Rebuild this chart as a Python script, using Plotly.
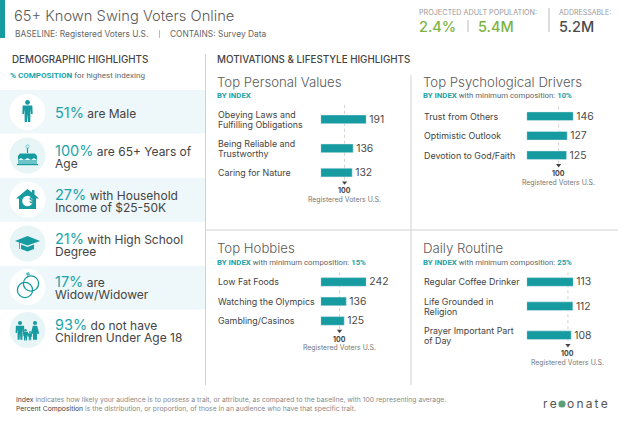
import plotly.graph_objects as go

W, H = 624, 425
TEAL = "#169BA1"
TEAL_T = "#1BA3A8"
DARK = "#4A4A4A"
FONT = "Inter"

demo_pct = ["51%", "100%", "27%", "21%", "17%", "93%"]
demo_text = [" are Male", " are 65+ Years of<br>Age", " with Household<br>Income of $25-50K",
             " with High School<br>Degree", " are<br>Widow/Widower", " do not have<br>Children Under Age 18"]

values_labels = ["Obeying Laws and<br>Fulfilling Obligations", "Being Reliable and<br>Trustworthy", "Caring for Nature"]
values_index = [191, 136, 132]
drivers_labels = ["Trust from Others", "Optimistic Outlook", "Devotion to God/Faith"]
drivers_index = [146, 127, 125]
hobbies_labels = ["Low Fat Foods", "Watching the Olympics", "Gambling/Casinos"]
hobbies_index = [242, 136, 125]
routine_labels = ["Regular Coffee Drinker", "Life Grounded in<br>Religion", "Prayer Important Part<br>of Day"]
routine_index = [113, 112, 108]
baseline_index = 100
baseline_name = "Registered Voters U.S."

def px(x): return x / W
def py(y): return 1 - y / H

fig = go.Figure()
shapes, notes = [], []

def T(x, y, text, size, color=DARK, anchor="left", weight=None, family=FONT):
    f = dict(size=size, color=color, family=family)
    if weight: f["weight"] = weight
    notes.append(dict(x=px(x), y=py(y), xref="paper", yref="paper", text=text, showarrow=False,
                      xanchor=anchor, yanchor="middle", align=anchor, font=f, borderpad=0, borderwidth=0))

def rect(x0, y0, x1, y1, color):
    shapes.append(dict(type="rect", xref="paper", yref="paper", x0=px(x0), x1=px(x1), y0=py(y0), y1=py(y1),
                       fillcolor=color, line_width=0, layer="below"))

def hline(x0, y0, x1, y1, color="#D2D2D2", w=1):
    shapes.append(dict(type="line", xref="paper", yref="paper", x0=px(x0), x1=px(x1), y0=py(y0), y1=py(y1),
                       line=dict(color=color, width=w), layer="below"))

def circ(cx, cy, r, fill=None, line=None, w=1.2):
    shapes.append(dict(type="circle", xref="paper", yref="paper", x0=px(cx - r), x1=px(cx + r),
                       y0=py(cy + r), y1=py(cy - r), fillcolor=fill or "rgba(0,0,0,0)",
                       line=dict(color=line or "rgba(0,0,0,0)", width=w if line else 0)))

def poly(pts, fill=TEAL):
    d = "M" + " L".join(f"{px(a):.5f} {py(b):.5f}" for a, b in pts) + " Z"
    shapes.append(dict(type="path", xref="paper", yref="paper", path=d, fillcolor=fill, line_width=0))

def person(cx, top, s=1.0, fill=TEAL, skirt=False):
    circ(cx, top + 2.4 * s, 2.4 * s, fill=fill)
    if skirt:
        poly([(cx - 2.5 * s, top + 5.5 * s), (cx + 2.5 * s, top + 5.5 * s), (cx + 5 * s, top + 15 * s),
              (cx + 2.3 * s, top + 15 * s), (cx + 2.3 * s, top + 22 * s), (cx - 2.3 * s, top + 22 * s),
              (cx - 2.3 * s, top + 15 * s), (cx - 5 * s, top + 15 * s)], fill)
    else:
        poly([(cx - 4.8 * s, top + 5.5 * s), (cx + 4.8 * s, top + 5.5 * s), (cx + 5.2 * s, top + 14 * s),
              (cx + 3.6 * s, top + 14 * s), (cx + 3 * s, top + 9 * s), (cx + 2.8 * s, top + 22 * s),
              (cx + .5 * s, top + 22 * s), (cx, top + 14 * s), (cx - .5 * s, top + 22 * s),
              (cx - 2.8 * s, top + 22 * s), (cx - 3 * s, top + 9 * s), (cx - 3.6 * s, top + 14 * s),
              (cx - 5.2 * s, top + 14 * s)], fill)

def tight(s, size):
    # plotly spaces lines by the outer font size, so the visible size is set per line
    return "<br>".join(f'<span style="font-size:{size}px">{part}</span>' for part in s.split("<br>"))

# backgrounds and rules
rect(0, 0, 5, 38, TEAL)
for y0, y1 in [(90, 133.5), (177.7, 221.7), (265.7, 309.5)]:
    rect(0, y0, 205, y1, "#EEF7F9")
hline(205.5, 54, 205.5, 385)
hline(411, 75, 411, 385)
hline(206, 230, 618, 230)
hline(468, 20, 468, 32, "#BBBBBB")
hline(549, 8, 549, 32, "#BBBBBB")
hline(159.5, 30, 159.5, 38, "#BBBBBB")

# header
T(14, 15.5, "65+ Known Swing Voters Online", 14.7, "#5A5A5A", weight=300)
T(15, 34, "BASELINE: Registered Voters U.S.", 8.4, "#666666")
T(170, 34, "CONTAINS: Survey Data", 8.4, "#666666")
T(419, 12.5, "PROJECTED ADULT POPULATION:", 7.2, "#999999")
T(559, 12.5, "ADDRESSABLE:", 7, "#999999")
T(419, 27, "2.4%", 14.5, "#7CB342", weight=500)
T(478, 27, "5.4M", 14.5, "#7CB342", weight=500)
T(559, 27, "5.2M", 14.5, "#4A4A4A", weight=500)

# section heads
T(12, 60, "DEMOGRAPHIC HIGHLIGHTS", 9.8, "#444444", weight=500)
T(217, 60, "MOTIVATIONS & LIFESTYLE HIGHLIGHTS", 9.8, "#444444", weight=500)
T(10, 75.5, f'<b><span style="color:{TEAL_T}">% COMPOSITION</span></b> for highest indexing', 8.05, "#666666", family="Roboto")

# demographic rows
row_y = [112, 155.5, 199.5, 243.5, 287, 330]
for i, (p, t, cy) in enumerate(zip(demo_pct, demo_text, row_y)):
    circ(27.5, cy, 18, fill="#FFFFFF" if i % 2 == 0 else "#E8F5F7")
    parts = t.split("<br>")
    lines = [f'<span style="color:{TEAL_T};font-size:14.5px">{p}</span><span style="font-size:12px">{parts[0]}</span>']
    if len(parts) > 1:
        lines.append(f'<span style="font-size:12px">{parts[1]}</span>')
    T(55, cy + (0 if len(parts) == 1 else 0.6), "<br>".join(lines), 9.6, "#444444")

# icons
person(27.5, 100, 1.0)
circ(27.5, 146.5, 1.6, line="#5CBCC0", w=.8)
rect(26.9, 148, 28.1, 153, TEAL)
shapes[-1]["layer"] = "above"
poly([(18, 160), (18, 156), (20, 153.5), (35, 153.5), (37, 156), (37, 160), (34, 158), (31, 160), (27.5, 158), (24, 160), (21, 158)])
poly([(18, 160), (37, 160), (37, 164), (18, 164)], "#6CC4C8")
poly([(17, 164), (38, 164), (38, 165.2), (17, 165.2)])
poly([(27.5, 189), (32, 192.5), (32, 190), (34.5, 190), (34.5, 194.5), (39, 198.5), (36, 198.5), (36, 209), (19, 209), (19, 198.5), (16, 198.5)])
circ(27.5, 201, 5.3, fill="#FFFFFF")
notes.append(dict(x=px(27.5), y=py(201), xref="paper", yref="paper", text="<b>$</b>", showarrow=False,
                  font=dict(size=7.5, color=TEAL, family=FONT), borderpad=0))
poly([(15, 241), (27.5, 236), (40, 241), (27.5, 245.5)])
poly([(21, 244.5), (27.5, 247), (34, 244.5), (34, 249), (27.5, 251.5), (21, 249)])
rect(19, 242, 19.8, 249, TEAL); shapes[-1]["layer"] = "above"
circ(25, 290, 7.6, line=TEAL, w=1.3)
circ(31, 283.5, 7.6, line=TEAL, w=1.3)
poly([(26, 273), (29, 272), (30, 275), (27, 276)], "#5CBCC0")
person(20, 321, .85)
person(35, 321, .85, skirt=True)
person(25.5, 329, .52)
person(30, 331, .42)

# panels: px per index unit is set by the x-axis span; rows follow the number of text lines
LINE1, LINE2, BAR = 19.5, 29.0, 8.7
panels = [
    dict(title="Top Personal Values", labels=values_labels, vals=values_index, tx=217, ty=81.5, sub_y=95.5, sub="",
         x0=320.7, x1=366.3, top=104.8),
    dict(title="Top Psychological Drivers", labels=drivers_labels, vals=drivers_index, tx=423, ty=81.5, sub_y=96,
         sub="10%", x0=526.7, x1=573.3, top=106.5),
    dict(title="Top Hobbies", labels=hobbies_labels, vals=hobbies_index, tx=217, ty=248, sub_y=262.7, sub="15%",
         x0=320.7, x1=366.3, top=272.2),
    dict(title="Daily Routine", labels=routine_labels, vals=routine_index, tx=423, ty=248, sub_y=262.7, sub="25%",
         x0=526.7, x1=573.3, top=272.2),
]
layout_axes = {}
for n, p in enumerate(panels, start=1):
    hs = [LINE2 if "<br>" in s else LINE1 for s in p["labels"]]
    ys, acc = [], 0.0
    for h in hs:
        ys.append(acc + h / 2)
        acc += h
    # the last row may be two lines tall, so the baseline note hangs off its centre
    span = ys[-1] + 40
    xa, ya = f"x{n}", f"y{n}"
    fig.add_trace(go.Bar(x=p["vals"], y=ys, orientation="h", width=BAR, xaxis=xa, yaxis=ya, marker_color=TEAL,
                         text=[str(v) for v in p["vals"]], textposition="outside", cliponaxis=False,
                         constraintext="none",
                         textfont=dict(size=10.4, color=DARK, family=FONT), showlegend=False, hoverinfo="skip"))
    fig.add_trace(go.Scatter(x=[baseline_index], y=[ys[-1] + 10], xaxis=xa, yaxis=ya, mode="markers", cliponaxis=False,
                             marker=dict(symbol="triangle-down", size=4.5, color="#444444"),
                             showlegend=False, hoverinfo="skip"))
    layout_axes[f"xaxis{n}"] = dict(domain=[px(p["x0"]), px(p["x1"])], range=[0, max(p["vals"])], visible=False, fixedrange=True)
    layout_axes[f"yaxis{n}"] = dict(domain=[py(p["top"] + span), py(p["top"])], range=[span, 0], visible=False, fixedrange=True)
    shapes.append(dict(type="line", xref=xa, yref=ya, x0=baseline_index, x1=baseline_index, y0=0, y1=ys[-1] + 8.5,
                       line=dict(color="#BBBBBB", width=.7, dash="dot"), layer="below"))
    for s, y in zip(p["labels"], ys):
        notes.append(dict(x=px(p["tx"]), xref="paper", y=y, yref=ya, text=tight(s, 8.9), showarrow=False, xanchor="left",
                          yanchor="middle", align="left", font=dict(size=7.7, color="#444444", family=FONT), borderpad=0))
    for dy, txt, sz, col in [(18.3, f"<b>{baseline_index}</b>", 7, "#444444"), (26.8, baseline_name, 6.9, "#777777")]:
        notes.append(dict(x=baseline_index, xref=xa, y=ys[-1] + dy, yref=ya, text=txt, showarrow=False, xanchor="center",
                          yanchor="middle", font=dict(size=sz, color=col, family=FONT), borderpad=0))
    T(p["tx"], p["ty"], p["title"], 13.2, "#5A5A5A", weight=300)
    sub = f'<b><span style="color:{TEAL_T}">BY INDEX</span></b>'
    if p["sub"]:
        sub += f' with minimum composition: <b><span style="color:{TEAL_T}">{p["sub"]}</span></b>'
    T(p["tx"], p["sub_y"], sub, 7.8, "#666666", family="Roboto")

# footer
T(16, 399, '<span style="color:#444444">Index</span> indicates how likely your audience is to possess a trait, or attribute, as compared to the baseline, with 100 representing average.', 6.8, "#8A8A8A")
T(16, 408, '<span style="color:#444444">Percent Composition</span> is the distribution, or proportion, of those in an audience who have that specific trait.', 6.8, "#8A8A8A")

# logo
T(543, 403, "r\u2009e", 12, "#555555")
circ(562, 404, 3.6, fill="#5C9E78")
T(567, 403, "o\u2009n\u2009a\u2009t\u2009e", 12, "#555555")

fig.update_layout(width=W, height=H, margin=dict(l=0, r=0, t=0, b=0), paper_bgcolor="white", plot_bgcolor="rgba(0,0,0,0)",
                  shapes=shapes, annotations=notes, font=dict(family=FONT), showlegend=False, **layout_axes)
fig.write_html("out.html", config=dict(displayModeBar=False),
               post_script="document.body.style.margin='0';document.body.style.overflow='hidden';")
